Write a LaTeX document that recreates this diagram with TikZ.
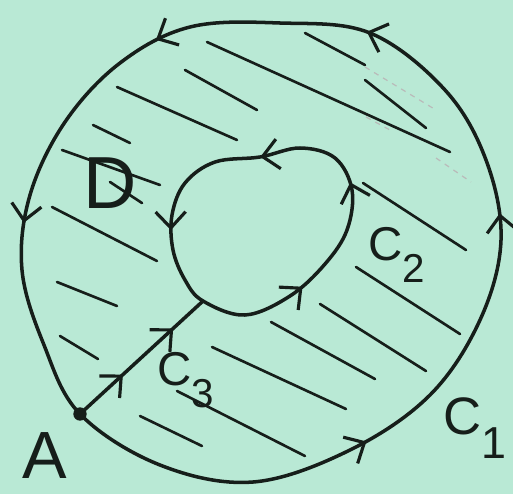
\documentclass[tikz,border=0pt]{standalone}
\usepackage{fontspec}
\setmainfont{Liberation Sans}
\usetikzlibrary{arrows.meta,decorations.markings}
\definecolor{mintbg}{RGB}{185,233,213}
\definecolor{ink}{RGB}{22,30,26}
\newcommand\lowsub[1]{\raisebox{-0.45em}{\scalebox{0.85}{#1}}}

\begin{document}
\begin{tikzpicture}[
x=0.02cm,y=-0.02cm,
barb/.tip={Straight Barb[length=3.2mm,width=6mm]},
curve/.style={draw=ink,line width=2pt,line join=round},
hatch/.style={draw=ink,line width=1.5pt,line cap=round},
faint/.style={draw=ink!30,line width=0.7pt,dashed},
arrowsat/.style={postaction={decorate,decoration={markings,mark=at position #1 with {\arrow[ink,line width=1.8pt]{barb}}}}},
tag/.style={text=ink,inner sep=0pt}
]
\useasboundingbox[fill=mintbg] (0,0) rectangle (513,494);

\coordinate (A) at (80,414);
\coordinate (J) at (203,301);

% outer boundary C1 (closed curve starts at its second point, A)
\draw[curve,arrowsat=0.211,arrowsat=0.40,arrowsat=0.559,arrowsat=0.704,arrowsat=0.862]
 plot[smooth cycle,tension=0.6] coordinates {(44,345) (A) (160,465) (253,482) (350,450) (430,395)
 (480,320) (501,240) (486,160) (445,90) (370,33) (280,23) (190,27) (120,63) (65,122) (30,195) (22,270)};

% inner boundary C2 (starts at J)
\draw[curve,arrowsat=0.199,arrowsat=0.419,arrowsat=0.613,arrowsat=0.854]
 plot[smooth cycle,tension=0.6] coordinates {(185,280) (J) (245,315) (290,296) (325,264) (347,230)
 (352,190) (335,158) (300,148) (260,157) (215,162) (185,183) (172,215) (173,250)};

% cut C3
\draw[curve,arrowsat=0.35,arrowsat=0.76] (A) -- (J);
\fill[ink] (A) circle (3.8pt);

% hatching of the region
\foreach \xa/\ya/\xb/\yb in {207/42/450/152, 305/33/365/65, 365/80/426/128, 185/70/257/110,
 117/87/237/140, 93/125/130/143, 62/150/160/185, 110/182/142/203, 52/207/157/261,
 57/282/117/306, 60/336/98/359, 363/183/466/250, 356/267/460/334, 320/304/426/371,
 271/322/375/379, 212/347/346/409, 177/391/305/456, 140/416/202/446}
 \draw[hatch] (\xa,\ya) -- (\xb,\yb);
\foreach \xa/\ya/\xb/\yb in {365/67/436/110, 366/117/390/130, 436/158/471/182}
 \draw[faint] (\xa,\ya) -- (\xb,\yb);

\node[tag,font=\fontsize{38}{38}\selectfont] (labA) at (45,456) {A};
\node[tag,font=\fontsize{42}{42}\selectfont] (labD) at (110,183) {D};
\node[tag,font=\fontsize{30}{30}\selectfont] (labCa) at (475,428) {C\lowsub{1}};
\node[tag,font=\fontsize{27}{27}\selectfont] (labCb) at (397,255) {C\lowsub{2}};
\node[tag,font=\fontsize{27}{27}\selectfont] (labCc) at (186,380) {C\lowsub{3}};
\end{tikzpicture}
\end{document}
